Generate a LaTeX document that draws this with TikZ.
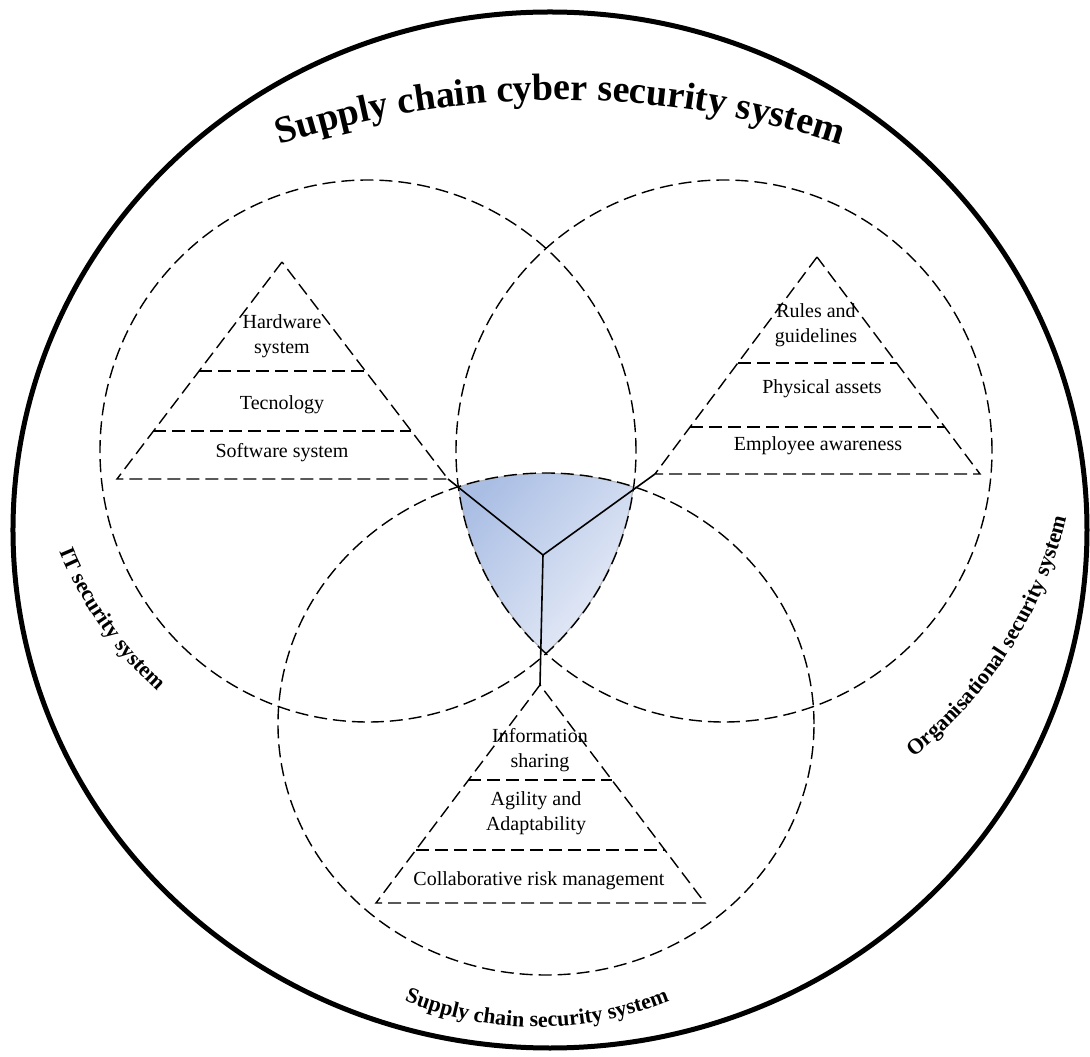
\documentclass[tikz,border=0pt]{standalone}
\usepackage{fontspec}
\setmainfont{Liberation Serif}
\usetikzlibrary{calc,decorations.text}
\definecolor{hubdark}{RGB}{170,190,228}
\definecolor{hublight}{RGB}{236,240,249}

\begin{document}
\begin{tikzpicture}[x=1pt,y=1pt,
	dashline/.style={line width=1.4pt,dash pattern=on 13pt off 6pt},
	tier/.style={font=\fontsize{20}{25}\selectfont,align=center,inner sep=0pt},
	hubline/.style={line width=1.6pt},
	arclabel/.style={decorate,decoration={text along path,text align=center,text={#1}}}]
	\useasboundingbox (-550,-527) rectangle (540,530);

	% outer ring
	\draw[line width=5pt] (0,0) ellipse [x radius=537,y radius=518];

	% shaded core where the three systems meet
	\begin{scope}
		\clip (-182,79) ellipse [x radius=268,y radius=271];
		\clip (174,79) ellipse [x radius=268,y radius=271];
		\clip (-4,-194) ellipse [x radius=268,y radius=251];
		\shade[top color=hubdark,bottom color=hublight,shading angle=50] (-100,62) rectangle (95,-130);
		\draw[gray!60,line width=2pt] (-182,79) ellipse [x radius=268,y radius=271];
		\draw[gray!60,line width=2pt] (174,79) ellipse [x radius=268,y radius=271];
		\draw[gray!60,line width=2pt] (-4,-194) ellipse [x radius=268,y radius=251];
	\end{scope}

	% the three systems
	\draw[dashline] (-182,79) ellipse [x radius=268,y radius=271];
	\draw[dashline] (174,79) ellipse [x radius=268,y radius=271];
	\draw[dashline] (-4,-194) ellipse [x radius=268,y radius=251];

	% IT pyramid
	\coordinate (itTop) at (-268,268);
	\coordinate (itBL) at (-433,51);
	\coordinate (itBR) at (-102,51);
	\draw[dashline] (itTop) -- (itBL) -- (itBR) -- cycle;
	\draw[dashline] ($(itTop)!0.502!(itBL)$) -- ($(itTop)!0.502!(itBR)$);
	\draw[dashline] ($(itTop)!0.779!(itBL)$) -- ($(itTop)!0.779!(itBR)$);
	\node[tier] (hw) at (-268,194) {Hardware\\system};
	\node[tier] (tec) at (-268,125) {Tecnology};
	\node[tier] (sw) at (-268,77) {Software system};

	% organisational pyramid
	\coordinate (orgTop) at (267,273);
	\coordinate (orgBL) at (105,56);
	\coordinate (orgBR) at (430,56);
	\draw[dashline] (orgTop) -- (orgBL) -- (orgBR) -- cycle;
	\draw[dashline] ($(orgTop)!0.488!(orgBL)$) -- ($(orgTop)!0.488!(orgBR)$);
	\draw[dashline] ($(orgTop)!0.783!(orgBL)$) -- ($(orgTop)!0.783!(orgBR)$);
	\node[tier] (rules) at (266,205) {Rules and\\guidelines};
	\node[tier] (phys) at (272,141) {Physical assets};
	\node[tier] (empl) at (268,84) {Employee awareness};

	% supply chain pyramid
	\coordinate (scTop) at (-10,-155);
	\coordinate (scBL) at (-174,-373);
	\coordinate (scBR) at (155,-373);
	\draw[dashline] (scTop) -- (scBL) -- (scBR) -- cycle;
	\draw[dashline] ($(scTop)!0.436!(scBL)$) -- ($(scTop)!0.436!(scBR)$);
	\draw[dashline] ($(scTop)!0.757!(scBL)$) -- ($(scTop)!0.757!(scBR)$);
	\node[tier] (info) at (-10,-220) {Information\\sharing};
	\node[tier] (agil) at (-14,-283) {Agility and\\Adaptability};
	\node[tier] (collab) at (-11,-351) {Collaborative risk management};

	% hub
	\coordinate (hub) at (-7,-25);
	\draw[hubline] (hub) -- (itBR);
	\draw[hubline] (hub) -- (orgBL);
	\draw[hubline] (hub) -- (scTop);

	% curved labels
	\path[arclabel={|\bfseries\fontsize{38}{44}\selectfont|Supply chain cyber security system}]
		(10,-470) ++(120:900) arc [start angle=120,end angle=60,radius=900];
	\path[arclabel={|\bfseries\fontsize{22}{26}\selectfont|IT security system}]
		(-128,128) ++(190:392) arc [start angle=190,end angle=240,radius=392];
	\path[arclabel={|\bfseries\fontsize{22}{26}\selectfont|Organisational security system}]
		(102,108) ++(-70:425) arc [start angle=-70,end angle=5,radius=425];
	\path[arclabel={|\bfseries\fontsize{22}{26}\selectfont|Supply chain security system}]
		(-13,-147) ++(235:350) arc [start angle=235,end angle=305,radius=350];
\end{tikzpicture}
\end{document}
